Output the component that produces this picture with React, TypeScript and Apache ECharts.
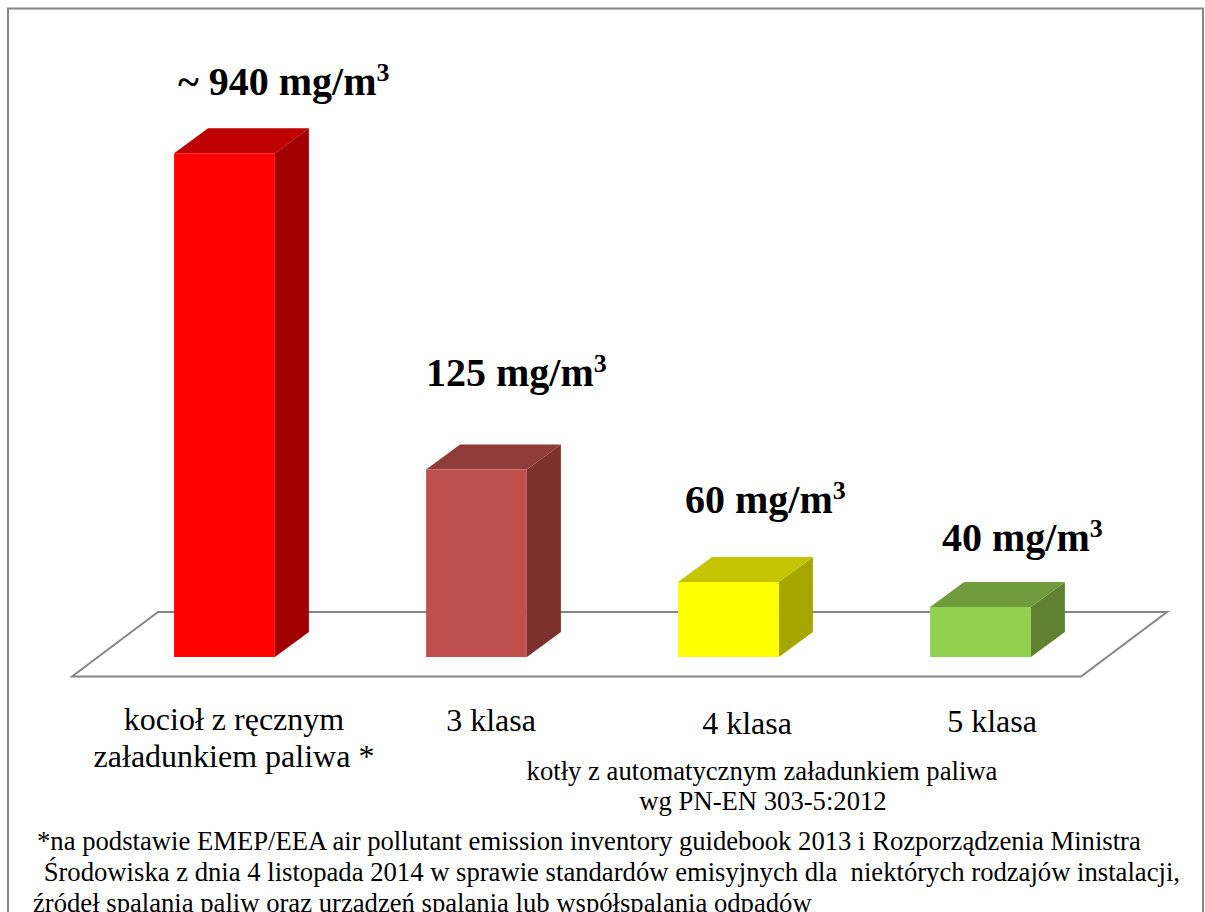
import React, { useEffect, useRef } from "react";
import * as echarts from "echarts";

const categories = ["kocioł z ręcznym\nzaładunkiem paliwa *", "3 klasa", "4 klasa", "5 klasa"];
const plottedHeights = [403, 150, 60, 40];
const valueLabels = ["~ 940", "125", "60", "40"];
const unitLabel = "mg/m";
const groupNote = ["kotły z automatycznym załadunkiem paliwa", "wg PN-EN 303-5:2012"];
const footnote = [
  "*na podstawie EMEP/EEA air pollutant emission inventory guidebook 2013 i Rozporządzenia Ministra",
  " Środowiska z dnia 4 listopada 2014 w sprawie standardów emisyjnych dla  niektórych rodzajów instalacji,",
  "źródeł spalania paliw oraz urządzeń spalania lub współspalania odpadów",
];

const faceColors = [
  { front: "#FF0000", top: "#BF0000", side: "#A00000" },
  { front: "#C0504D", top: "#8F3B39", side: "#7E302F" },
  { front: "#FFFF00", top: "#C4C400", side: "#A6A600" },
  { front: "#92D050", top: "#719C3E", side: "#5F8232" },
];

const valueLabelPos = [[178, 81.5], [426, 372], [685, 499.5], [942, 537.5]];
const categoryPos = [[234, 737.5], [491, 720], [747, 723], [992, 720.5]];
const SERIF = '"Liberation Serif", "Times New Roman", serif';
const DX = 34;
const DY = 25;

function renderBar(params: any, api: any) {
  const i = api.value(0) as number;
  const [cx, y0] = api.coord([i, 0]);
  const [, y1] = api.coord([i, api.value(1)]);
  const w = api.size([1, 0])[0] * 0.4;
  const l = cx - w / 2;
  const r = cx + w / 2;
  const c = faceColors[i];
  return {
    type: "group",
    children: [
      { type: "polygon", shape: { points: [[r, y1], [r + DX, y1 - DY], [r + DX, y0 - DY], [r, y0]] }, style: { fill: c.side } },
      { type: "polygon", shape: { points: [[l, y1], [l + DX, y1 - DY], [r + DX, y1 - DY], [r, y1]] }, style: { fill: c.top } },
      { type: "rect", shape: { x: l, y: y1, width: w, height: y0 - y1 }, style: { fill: c.front } },
    ],
  };
}

function renderFloor(params: any, api: any) {
  const [, y0] = api.coord([0, 0]);
  const g = params.coordSys;
  const left = g.x - 26.5;
  const right = g.x + g.width - 25.5;
  return {
    type: "polygon",
    shape: { points: [[left, y0 + 19.5], [left + 86, y0 - 45], [right + 86, y0 - 45], [right, y0 + 19.5]] },
    style: { fill: "#FFFFFF", stroke: "#868686", lineWidth: 2 },
  };
}

export default function App() {
  const ref = useRef<HTMLDivElement>(null);
  useEffect(() => {
    const chart = echarts.init(ref.current!, null, { renderer: "svg" });
    const graphic: any[] = [
      { type: "rect", shape: { x: 8, y: 8.5, width: 1195, height: 1000 }, style: { fill: "none", stroke: "#868686", lineWidth: 2 }, silent: true, z: 0 },
    ];
    valueLabels.forEach((t, i) => {
      graphic.push({
        type: "text",
        x: valueLabelPos[i][0],
        y: valueLabelPos[i][1],
        z: 10,
        style: {
          text: `{v|${t} ${unitLabel}}{s|3}`,
          verticalAlign: "middle",
          rich: {
            v: { font: `bold 40px ${SERIF}`, fill: "#000", lineHeight: 46 },
            s: { font: `bold 26px ${SERIF}`, fill: "#000", lineHeight: 46, padding: [0, 0, 18, 0] },
          },
        },
      });
    });
    categories.forEach((t, i) => {
      graphic.push({
        type: "text",
        x: categoryPos[i][0],
        y: categoryPos[i][1],
        z: 10,
        style: { text: t, font: `32px ${SERIF}`, lineHeight: 37, fill: "#000", align: "center", verticalAlign: "middle" },
      });
    });
    groupNote.forEach((t, i) => {
      graphic.push({
        type: "text",
        x: i === 0 ? 762 : 763,
        y: 771 + i * 30,
        z: 10,
        style: { text: t, font: `26.67px ${SERIF}`, fill: "#000", align: "center", verticalAlign: "middle" },
      });
    });
    footnote.forEach((t, i) => {
      graphic.push({
        type: "text",
        x: [37, 37, 33][i],
        y: 840.5 + i * 31,
        z: 10,
        style: { text: t, font: `26.67px ${SERIF}`, fill: "#000", align: "left", verticalAlign: "middle" },
      });
    });
    chart.setOption({
      animation: false,
      grid: { left: 98.5, width: 1008, top: 32, height: 625 },
      xAxis: { type: "category", data: categories, show: false },
      yAxis: { type: "value", min: 0, max: 500, show: false },
      graphic,
      series: [
        { type: "custom", z: 1, silent: true, data: [[0, 0]], renderItem: renderFloor, encode: { x: 0, y: 1 }, clip: false },
        { type: "custom", z: 2, data: plottedHeights.map((v, i) => [i, v]), renderItem: renderBar, encode: { x: 0, y: 1 }, clip: false },
      ],
    });
    return () => chart.dispose();
  }, []);
  return <div ref={ref} style={{ position: "fixed", left: 0, top: 0, width: 1205, height: 912, background: "#fff" }} />;
}
